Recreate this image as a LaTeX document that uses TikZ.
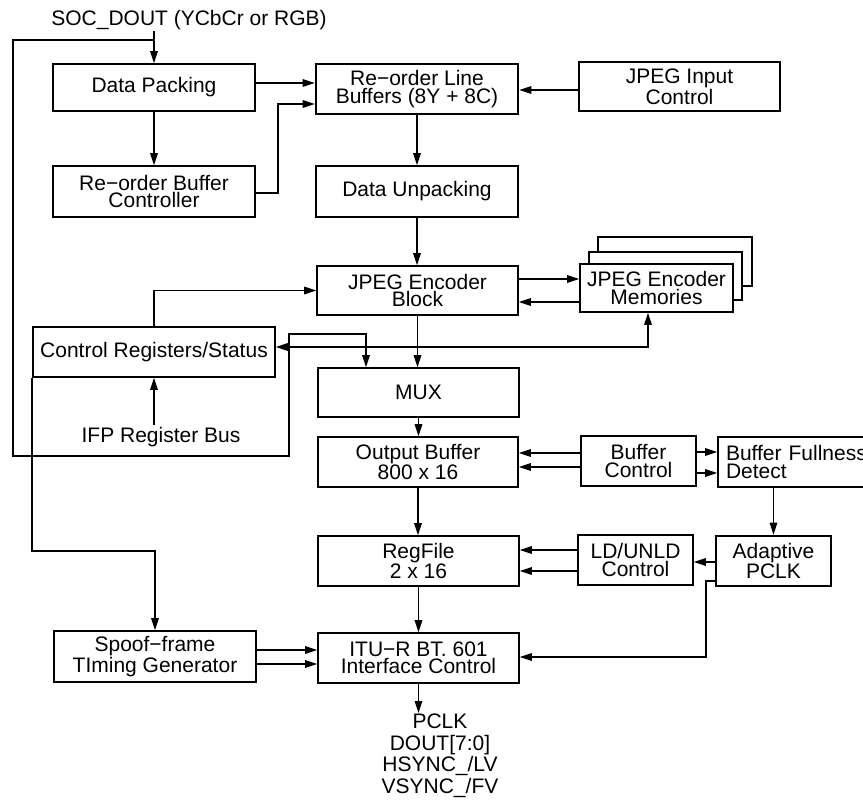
\documentclass[tikz,border=0pt]{standalone}
\usepackage{fontspec}
\setmainfont{Liberation Sans}
\usetikzlibrary{arrows.meta}
\begin{document}
\begin{tikzpicture}[x=1pt,y=-1pt,line width=1.6pt,
  every node/.style={font=\fontsize{21}{17.5}\selectfont,inner sep=2pt},
  box/.style={draw,align=center,line width=1.6pt},
  tbox/.style={box,line width=2.6pt},
  arr/.style={-{Triangle[length=12pt,width=7.5pt]}},
  darr/.style={{Triangle[length=12pt,width=7.5pt]}-{Triangle[length=12pt,width=7.5pt]}}]
\useasboundingbox (0,0) rectangle (863,800);
\clip (0,0) rectangle (863,800);

% boxes
\node[box,minimum width=202pt,minimum height=47pt] (dp) at (154,87.5) {Data Packing};
\node[box,minimum width=202pt,minimum height=51pt] (rbc) at (154,191.5) {Re−order Buffer\\Controller};
\node[tbox,minimum width=202pt,minimum height=50pt] (rlb) at (417,89) {Re−order Line\\Buffers (8Y + 8C)};
\node[box,minimum width=201pt,minimum height=49pt] (jic) at (679.5,86.5) {JPEG Input\\Control};
\node[box,minimum width=202pt,minimum height=51pt] (du) at (417,191.5) {Data Unpacking};
\node[box,minimum width=201pt,minimum height=49pt] (jeb) at (417.5,290.5) {JPEG Encoder\\Block};
\node[box,fill=white,minimum width=154pt,minimum height=49pt] (mem3) at (675,261.5) {};
\node[box,fill=white,minimum width=153pt,minimum height=48pt] (mem2) at (665.5,276) {};
\node[box,fill=white,minimum width=153pt,minimum height=48pt] (mem) at (656.5,288) {JPEG Encoder\\Memories};
\node[box,minimum width=242pt,minimum height=50pt] (crs) at (154,352) {Control Registers/Status};
\node[box,minimum width=201pt,minimum height=49pt] (mux) at (418.5,392.5) {MUX};
\node[box,minimum width=200pt,minimum height=50pt] (ob) at (418,462) {Output Buffer\\800 x 16};
\node[box,minimum width=115pt,minimum height=50pt] (bc) at (638.5,461) {Buffer\\Control};
\node[box,minimum width=162pt,minimum height=50pt,text width=146pt,align=left,inner xsep=8pt] (bfd) at (799,462) {Buffer Fullness\\Detect};
\node[box,minimum width=201pt,minimum height=50pt] (rf) at (418.5,561) {RegFile\\2 x 16};
\node[box,minimum width=115pt,minimum height=50pt] (ldu) at (635.5,560) {LD/UNLD\\Control};
\node[tbox,minimum width=115pt,minimum height=50pt] (apc) at (773.5,561) {Adaptive\\PCLK};
\node[box,minimum width=202pt,minimum height=51pt] (sfg) at (155,656.5) {Spoof−frame\\TIming Generator};
\node[box,minimum width=201pt,minimum height=50pt] (itu) at (418.5,658) {ITU−R BT. 601\\Interface Control};

% free texts
\node[anchor=base,inner sep=0pt] (soc) at (189,26) {SOC\_DOUT (YCbCr or RGB)};
\node[anchor=base,inner sep=1pt] (ifp) at (161,442) {IFP Register Bus};
\node[anchor=north,inner sep=0pt,align=center,font=\fontsize{21}{21.7}\selectfont] (out) at (440,713) {PCLK\\DOUT[7:0]\\HSYNC\_/LV\\VSYNC\_/FV};

% coordinates for bends
\coordinate (socj) at (154,40);
\coordinate (lp1) at (13,40);
\coordinate (lp2) at (13,456);
\coordinate (lp3) at (289,456);
\coordinate (lp4) at (289,334);
\coordinate (lp5) at (366,334);
\coordinate (b1) at (278,104);
\coordinate (b2) at (706,581);
\coordinate (b3) at (706,657);

% connectors
\draw[arr] (soc.south -| dp.north) -- (dp.north);
\draw[arr] (socj) -- (lp1) -- (lp2) -- (lp3) -- (lp4) -- (lp5) -- (lp5 |- mux.north);
\draw[arr] (dp.east |- 0,83) -- (rlb.west |- 0,83);
\draw[arr] (dp.south) -- (rbc.north);
\draw[arr] (rbc.east |- 0,193) -| (b1) -- (rlb.west |- b1);
\draw[arr] (jic.west |- 0,90) -- (rlb.east |- 0,90);
\draw[arr] (rlb.south) -- (du.north);
\draw[arr] (du.south) -- (du.south |- jeb.north);
\draw[arr] (crs.north) |- (jeb.west);
\draw[arr] (jeb.east |- 0,279) -- (mem.west |- 0,279);
\draw[arr] (mem.west |- 0,302) -- (jeb.east |- 0,302);
\draw[arr] (jeb.south) -- (jeb.south |- mux.north);
\draw[darr] (crs.east |- 0,347) -| (mem.south -| 648,0);
\draw[arr] (crs.south |- ifp.north) -- (crs.south);
\draw[arr] (crs.south west) |- (sfg.north |- 0,551) -- (sfg.north);
\draw[arr] (mux.south) -- (mux.south |- ob.north);
\draw[arr] (bc.west |- 0,453) -- (ob.east |- 0,453);
\draw[arr] (bc.west |- 0,467) -- (ob.east |- 0,467);
\draw[arr] (bc.east |- 0,452) -- (bfd.west |- 0,452);
\draw[arr] (bc.east |- 0,473) -- (bfd.west |- 0,473);
\draw[arr] (apc.north |- bfd.south) -- (apc.north);
\draw[arr] (ob.south) -- (ob.south |- rf.north);
\draw[arr] (ldu.west |- 0,550) -- (rf.east |- 0,550);
\draw[arr] (ldu.west |- 0,571) -- (rf.east |- 0,571);
\draw[arr] (apc.west |- 0,562) -- (ldu.east |- 0,562);
\draw[arr] (apc.west |- b2) -- (b2) -- (b3) -- (itu.east |- b3);
\draw[arr] (rf.south) -- (itu.north);
\draw[arr] (sfg.east |- 0,650) -- (itu.west |- 0,650);
\draw[arr] (sfg.east |- 0,664) -- (itu.west |- 0,664);
\draw[arr] (itu.south) -- (itu.south |- out.north);
\end{tikzpicture}
\end{document}
